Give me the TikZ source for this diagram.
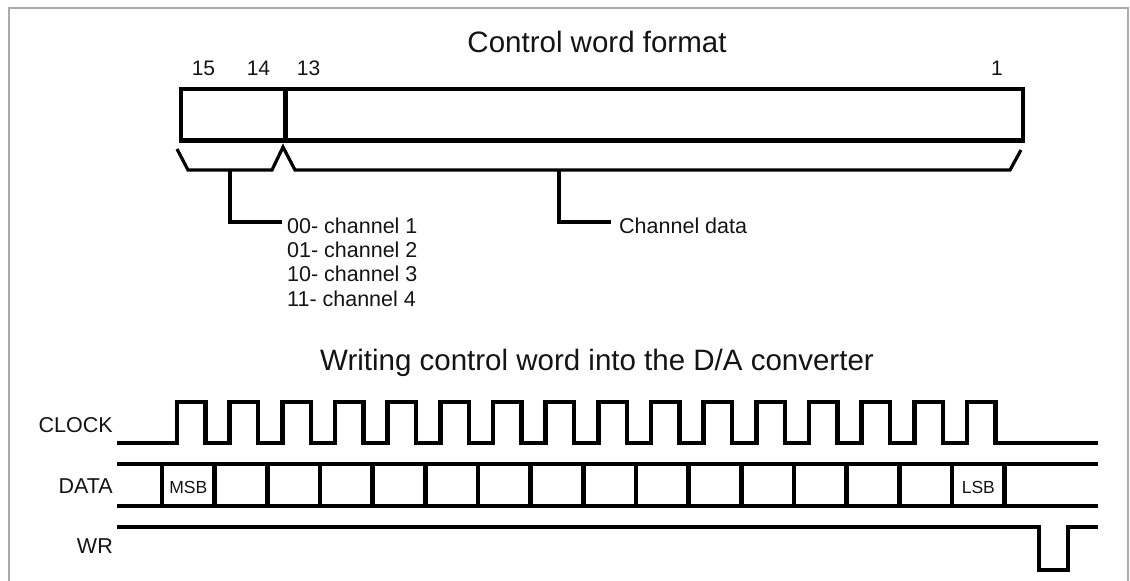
\documentclass[tikz,border=0pt]{standalone}
\usepackage{fontspec}
\setmainfont{Liberation Sans}
\usetikzlibrary{calc}
\definecolor{framegray}{RGB}{170,170,170}
\definecolor{ink}{RGB}{20,20,20}
\tikzset{
  title/.style={font=\fontsize{29.5}{32}\selectfont, text=ink, inner sep=0pt, anchor=base},
  lbl/.style={font=\fontsize{21.5}{24}\selectfont, text=ink, inner sep=0pt},
  bitno/.style={font=\fontsize{21}{24}\selectfont, text=ink, inner sep=0pt, anchor=base},
  tiny/.style={font=\fontsize{17.5}{19}\selectfont, text=ink, inner sep=0pt, anchor=base},
  field/.style={draw, line width=4.5pt, inner sep=0pt, anchor=north west},
  bracket/.style={line width=3.2pt},
  stem/.style={line width=3.2pt},
  sig/.style={line width=4.5pt},
}
\begin{document}
\begin{tikzpicture}[x=1pt,y=-1pt]
\useasboundingbox (0,0) rectangle (1130,581);
\clip (0,0) rectangle (1130,581);
% frame
\draw[framegray, line width=2.5pt] (9,600) -- (9,8) -- (1128,8) -- (1128,600);

% ---- control word format ----
\node[title] (t1) at (597,52) {Control word format};
\node[bitno] (n15) at (203.5,75) {15};
\node[bitno] (n14) at (258.5,75) {14};
\node[bitno] (n13) at (308.5,75) {13};
\node[bitno] (n1)  at (997,75) {1};
\node[field, minimum width=104.5pt, minimum height=51.5pt] (chf) at (178.5,86.5) {};
\node[field, minimum width=737.5pt, minimum height=51.5pt] (datf) at (283,86.5) {};

\draw[bracket] (177,149) -- (188,170) -- (272,170) -- (283,147) -- (295,170) -- (1010,170) -- (1021,150);
\coordinate (b1) at (230,170);
\coordinate (b2) at (559,170);

\node[lbl, anchor=base west] (ch1) at (287,233) {00- channel 1};
\node[lbl, anchor=base west] (ch2) at (287,257.3) {01- channel 2};
\node[lbl, anchor=base west] (ch3) at (287,281.6) {10- channel 3};
\node[lbl, anchor=base west] (ch4) at (287,306) {11- channel 4};
\node[lbl, anchor=base west] (cd) at (619,233) {Channel data};

\draw[stem] (b1) |- ($(ch1.base west)+(-5,-11)$);
\draw[stem] (b2) |- ($(cd.base west)+(-8,-11)$);

% ---- timing diagram ----
\node[title] (t2) at (597,370) {Writing control word into the D/A converter};
\node[lbl, anchor=base east] (clk) at (113,432) {CLOCK};
\node[lbl, anchor=base east] (dat) at (113,493) {DATA};
\node[lbl, anchor=base east] (wr)  at (113,553) {WR};

\draw[sig] (117,443) \foreach \k in {0,...,15}{
  -- ({177+52.67*\k},443) -- ({177+52.67*\k},402) -- ({205.5+52.67*\k},402) -- ({205.5+52.67*\k},443)
} -- (1098,443);

\draw[sig] (117,464) -- (1098,464);
\draw[sig] (117,506) -- (1098,506);
\foreach \k in {0,...,16}{
  \draw[sig] ({162+52.67*\k},464) -- ({162+52.67*\k},506);
}
\node[tiny] (msb) at (188.3,493) {MSB};
\node[tiny] (lsb) at (978.3,493) {LSB};

\draw[sig] (117,527) -- (1039,527) -- (1039,570) -- (1068,570) -- (1068,527) -- (1098,527);
\end{tikzpicture}
\end{document}
